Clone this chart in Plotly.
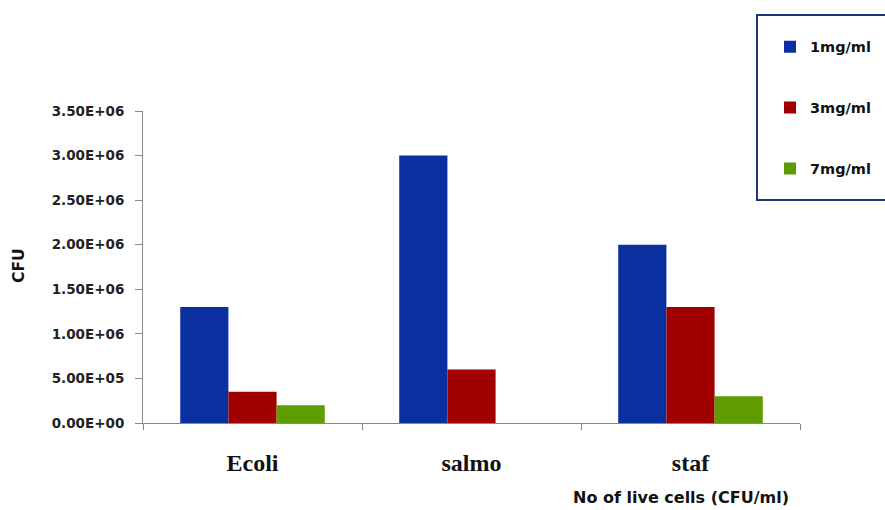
import plotly.graph_objects as go

categories = ["Ecoli", "salmo", "staf"]
series_names = ["1mg/ml", "3mg/ml", "7mg/ml"]
vals_1mg = [1.3e6, 3.0e6, 2.0e6]
vals_3mg = [3.5e5, 6.0e5, 1.3e6]
vals_7mg = [2.0e5, 0.0, 3.0e5]
colors = ["#0A30A0", "#A00000", "#5E9C00"]
ytick_vals = [0, 5e5, 1e6, 1.5e6, 2e6, 2.5e6, 3e6, 3.5e6]
ytick_text = ["0.00E+00", "5.00E+05", "1.00E+06", "1.50E+06", "2.00E+06", "2.50E+06", "3.00E+06", "3.50E+06"]

fig = go.Figure()
for i, (name, vals) in enumerate(zip(series_names, [vals_1mg, vals_3mg, vals_7mg])):
    fig.add_trace(go.Bar(x=categories, y=vals, name=name, marker_color=colors[i],
                         marker_line_width=0, legendgroup=name))

W, H = 885, 510
L, R, T, B = 143, 0, 111, 87
PW, PH = W - L - R, H - T - B
X_END = 800  # right end of the x axis in pixels

fig.update_layout(
    width=W, height=H,
    margin=dict(l=L, r=R, t=T, b=B),
    paper_bgcolor="white", plot_bgcolor="white",
    barmode="group", bargap=0.34, bargroupgap=0,
    showlegend=True,
    legend=dict(x=(770 - L) / PW, y=1.257, xanchor="left", yanchor="top",
                bgcolor="rgba(0,0,0,0)", borderwidth=0,
                font=dict(family="DejaVu Sans", size=14.5, color="#111", weight="bold"),
                tracegroupgap=39, itemwidth=30),
    font=dict(family="DejaVu Sans"),
)
fig.update_yaxes(range=[0, 3.5e6], tickvals=ytick_vals, ticktext=ytick_text,
                 showline=True, linecolor="#888", linewidth=1,
                 ticks="outside", ticklen=7, tickcolor="#888",
                 ticklabelstandoff=8,
                 showgrid=False, zeroline=False,
                 tickfont=dict(family="DejaVu Sans", size=13.5, color="#222", weight="bold"))
fig.update_xaxes(domain=[0, (X_END - L) / PW],
                 showline=True, linecolor="#888", linewidth=1,
                 ticks="outside", tickson="boundaries", ticklen=6, tickcolor="#888",
                 ticklabelstandoff=18,
                 tickfont=dict(family="Liberation Serif", size=24, color="#111", weight="bold"))

# legend frame
fig.add_shape(type="rect", xref="paper", yref="paper",
              x0=(757 - L) / PW, x1=(890 - L) / PW,
              y0=(H - B - 200) / PH, y1=(H - B - 15) / PH,
              line=dict(color="#1F3575", width=2), fillcolor="rgba(0,0,0,0)")

fig.add_annotation(text="CFU", textangle=-90, xref="paper", yref="paper",
                   x=(19 - L) / PW, y=(H - B - 266) / PH, xanchor="center", yanchor="middle",
                   showarrow=False,
                   font=dict(family="DejaVu Sans", size=15.5, color="#111", weight="bold"))
fig.add_annotation(text="No of live cells (CFU/ml)", xref="paper", yref="paper",
                   x=(681 - L) / PW, y=(H - B - 497) / PH, xanchor="center", yanchor="middle",
                   showarrow=False,
                   font=dict(family="DejaVu Sans", size=16, color="#111", weight="bold"))

fig.write_html("out.html")
